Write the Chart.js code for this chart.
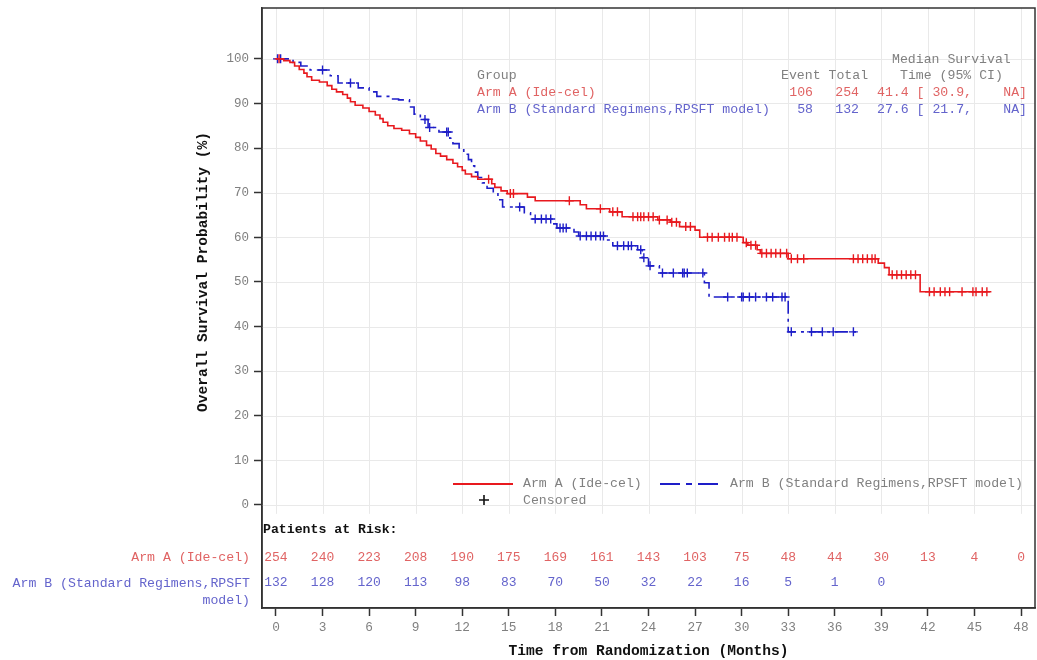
<!DOCTYPE html>
<html>
<head>
<meta charset="utf-8">
<script src="https://cdn.jsdelivr.net/npm/chart.js@4.4.1/dist/chart.umd.min.js"></script>
<style>
html,body{margin:0;padding:0;background:#fff;}
#wrap{width:1037px;height:660px;position:relative;}
</style>
</head>
<body>
<div id="wrap"><canvas id="c" width="1037" height="660"></canvas></div>
<script>
// ---------- data ----------
const xTicks = [0,3,6,9,12,15,18,21,24,27,30,33,36,39,42,45,48];
const yTicks = [0,10,20,30,40,50,60,70,80,90,100];

// Arm A (Ide-cel): event times (months) and survival (%) after each step
const armA_t = [0,0.5,0.9,1.2,1.5,1.8,2.0,2.3,2.8,3.3,3.6,3.9,4.3,4.6,4.8,5.1,5.6,6.0,6.4,6.7,6.9,7.2,7.6,8.1,8.6,9.0,9.3,9.7,10.0,10.3,10.6,11.0,11.4,11.7,12.0,12.2,12.6,13.0,13.9,14.1,14.5,14.9,16.2,16.7,19.6,20.0,21.5,22.3,24.6,25.4,26.0,27.0,27.3,30.1,30.4,31.0,31.2,33.0,38.8,39.2,39.5,41.5,46.0];
const armA_s = [100,99.6,99.2,98.4,97.6,96.8,96.0,95.2,94.8,94.0,93.2,92.6,92.0,91.2,90.4,89.6,89.0,88.2,87.4,86.6,85.8,85.0,84.4,84.0,83.2,82.4,81.6,80.6,79.8,78.8,78.2,77.4,76.6,75.8,75.0,74.2,73.6,73.0,72.0,71.2,70.4,69.8,69.0,68.2,67.3,66.4,65.7,64.6,63.9,63.4,62.4,61.6,60.0,58.8,58.2,57.2,56.4,55.2,54.2,53.2,51.6,47.8,47.8];
const armA_censor = [0.2,13.7,15.1,15.3,18.9,20.9,21.7,22.0,23.0,23.3,23.5,23.7,24.0,24.3,24.7,25.2,25.5,25.8,26.4,26.7,27.8,28.1,28.5,28.9,29.2,29.4,29.7,30.3,30.6,30.9,31.3,31.6,31.9,32.2,32.5,32.9,33.2,33.6,34.0,37.2,37.5,37.8,38.1,38.4,38.6,39.7,40.0,40.3,40.6,40.9,41.2,42.1,42.4,42.8,43.1,43.4,44.2,44.9,45.1,45.5,45.8];

// Arm B (Standard Regimens, RPSFT model)
const armB_t = [0,1.1,1.6,2.2,3.5,4.0,5.3,6.0,6.5,7.4,7.9,8.6,8.9,9.3,9.8,10.5,11.2,11.4,11.8,12.1,12.4,12.6,12.8,13.0,13.3,13.6,14.0,14.3,14.6,16.0,16.4,17.9,18.1,19.2,19.5,21.3,21.7,23.3,23.6,24.0,24.7,27.6,27.9,33.0,37.4];
const armB_s = [100,99.2,98.4,97.5,96.2,94.6,93.5,92.6,91.6,91.0,90.8,89.2,87.6,86.4,84.6,83.6,82.2,81.0,79.8,78.6,77.4,76.0,74.6,73.4,72.2,71.0,70.0,68.4,66.8,65.5,64.1,63.0,62.1,61.2,60.3,59.4,58.1,57.2,55.4,53.6,52.0,49.8,46.6,38.8,38.8];
const armB_censor = [0.1,0.3,3.0,4.8,9.6,9.9,11.0,11.1,15.7,16.7,17.1,17.4,17.7,18.3,18.5,18.7,19.6,20.0,20.3,20.6,20.9,21.1,22.0,22.4,22.7,22.9,23.5,23.7,24.1,24.9,25.6,26.2,26.3,26.5,27.5,29.1,30.0,30.1,30.5,30.9,31.6,32.0,32.6,32.8,33.2,34.5,35.2,35.9,37.2];

// Patients at risk
const riskA = [254,240,223,208,190,175,169,161,143,103,75,48,44,30,13,4,0];
const riskB = [132,128,120,113,98,83,70,50,32,22,16,5,1,0];

// Summary table
const groupNames = ['Arm A (Ide-cel)','Arm B (Standard Regimens,RPSFT model)'];
const events = [106,58];
const totals = [254,132];
const medians = ['41.4','27.6'];
const ciLow = ['30.9','21.7'];
const ciHigh = ['NA','NA'];

// ---------- styles ----------
const RED = '#e8191e', BLUE = '#1e1ec8';
const RED_TXT = '#e06464', BLUE_TXT = '#6464cc', GRAY_TXT = '#808080';
const MONO = "'Liberation Mono','DejaVu Sans Mono',monospace";

function survAt(ts, ss, t){ let v = ss[0]; for(let i=0;i<ts.length;i++){ if(ts[i]<=t) v=ss[i]; } return v; }
const pts = (ts,ss)=>ts.map((t,i)=>({x:t,y:ss[i]}));
const cens = (cs,ts,ss)=>cs.map(t=>({x:t,y:survAt(ts,ss,t)}));

const overlay = {
  id:'overlay',
  beforeDatasetsDraw(chart){
    const {ctx, chartArea:a, scales:{x,y}} = chart;
    ctx.save();
    ctx.strokeStyle = '#e9e9e9'; ctx.lineWidth = 1;
    yTicks.forEach(v=>{ const py=Math.round(y.getPixelForValue(v))+0.5; ctx.beginPath(); ctx.moveTo(a.left,py); ctx.lineTo(a.right,py); ctx.stroke(); });
    const gBottom = y.getPixelForValue(-2);
    xTicks.forEach(v=>{ const px=Math.round(x.getPixelForValue(v))+0.5; ctx.beginPath(); ctx.moveTo(px,a.top); ctx.lineTo(px,gBottom); ctx.stroke(); });
    ctx.restore();
  },
  afterDraw(chart){
    const {ctx, chartArea:a, scales:{x,y}} = chart;
    ctx.save();
    // frame
    ctx.strokeStyle = '#333'; ctx.lineWidth = 1.5;
    ctx.strokeRect(a.left, a.top, a.right-a.left, a.bottom-a.top);

    // summary table
    ctx.textBaseline = 'middle';
    ctx.font = '13.2px '+MONO;
    ctx.fillStyle = GRAY_TXT; ctx.textAlign='left';
    ctx.fillText('Median Survival', 892, 60);
    ctx.fillText('Group', 477, 76);
    ctx.fillText('Event Total', 781, 76);
    ctx.fillText('Time (95% CI)', 900, 76);
    const rowY = [93, 110];
    [0,1].forEach(i=>{
      ctx.fillStyle = i===0?RED_TXT:BLUE_TXT;
      ctx.textAlign='left'; ctx.fillText(groupNames[i], 477, rowY[i]);
      ctx.textAlign='right'; ctx.fillText(String(events[i]), 813, rowY[i]);
      ctx.fillText(String(totals[i]), 859, rowY[i]);
      ctx.textAlign='left'; ctx.fillText(medians[i]+' [ '+ciLow[i]+',', 877, rowY[i]);
      ctx.textAlign='right'; ctx.fillText(ciHigh[i]+']', 1027, rowY[i]);
    });

    // legend
    ctx.lineWidth = 1.8;
    ctx.strokeStyle = RED; ctx.beginPath(); ctx.moveTo(453,484); ctx.lineTo(513,484); ctx.stroke();
    ctx.strokeStyle = BLUE; ctx.setLineDash([20,6,6,6]); ctx.beginPath(); ctx.moveTo(660,484); ctx.lineTo(720,484); ctx.stroke(); ctx.setLineDash([]);
    ctx.strokeStyle = '#111'; ctx.lineWidth=1.6; ctx.beginPath(); ctx.moveTo(479,500); ctx.lineTo(489,500); ctx.moveTo(484,495); ctx.lineTo(484,505); ctx.stroke();
    ctx.fillStyle = GRAY_TXT; ctx.textAlign='left';
    ctx.fillText('Arm A (Ide-cel)', 523, 484);
    ctx.fillText('Arm B (Standard Regimens,RPSFT model)', 730, 484);
    ctx.fillText('Censored', 523, 501);

    // patients at risk
    ctx.fillStyle = '#111'; ctx.font = 'bold 13.2px '+MONO;
    ctx.fillText('Patients at Risk:', a.left+1, y.getPixelForValue(-5.6));
    ctx.font = '13px '+MONO; ctx.textAlign='center';
    const yA = y.getPixelForValue(-11.7), yB = y.getPixelForValue(-17.5);
    ctx.fillStyle = RED_TXT; riskA.forEach((n,i)=>ctx.fillText(String(n), x.getPixelForValue(xTicks[i]), yA));
    ctx.fillStyle = BLUE_TXT; riskB.forEach((n,i)=>ctx.fillText(String(n), x.getPixelForValue(xTicks[i]), yB));
    ctx.font = '13.2px '+MONO; ctx.textAlign='right';
    ctx.fillStyle = RED_TXT; ctx.fillText('Arm A (Ide-cel)', 250, yA);
    ctx.fillStyle = BLUE_TXT; ctx.fillText('Arm B (Standard Regimens,RPSFT', 250, yB); ctx.fillText('model)', 250, yB+17);

    // axis titles
    ctx.fillStyle = '#111'; ctx.font = 'bold 14.6px '+MONO; ctx.textAlign='center';
    ctx.fillText('Time from Randomization (Months)', (a.left+a.right)/2, 651);
    ctx.translate(203, 272); ctx.rotate(-Math.PI/2);
    ctx.fillText('Overall Survival Probability (%)', 0, 0);
    ctx.restore();
  }
};

new Chart(document.getElementById('c'), {
  type:'line',
  data:{ datasets:[
    {data:pts(armA_t,armA_s), stepped:true, borderColor:RED, borderWidth:1.6, pointRadius:0, fill:false},
    {data:cens(armA_censor,armA_t,armA_s), showLine:false, pointStyle:'cross', pointRadius:4.5, borderColor:RED, borderWidth:1.4},
    {data:pts(armB_t,armB_s), stepped:true, borderColor:BLUE, borderWidth:1.6, borderDash:[13,5,3,5], pointRadius:0, fill:false},
    {data:cens(armB_censor,armB_t,armB_s), showLine:false, pointStyle:'cross', pointRadius:4.5, borderColor:BLUE, borderWidth:1.4}
  ]},
  options:{
    responsive:false, devicePixelRatio:1, animation:false,
    layout:{autoPadding:false, padding:{top:8,right:2,left:0,bottom:0}},
    plugins:{legend:{display:false}, tooltip:{enabled:false}},
    scales:{
      x:{ type:'linear', min:-0.9, max:48.9,
        afterBuildTicks:s=>{ s.ticks = xTicks.map(v=>({value:v})); },
        afterFit:s=>{ s.height = 52; s.paddingLeft = 0; s.paddingRight = 0; },
        grid:{drawOnChartArea:false, drawTicks:true, tickLength:8, tickColor:'#333', tickWidth:1.5},
        border:{display:true, color:'#333', width:1.5},
        ticks:{color:GRAY_TXT, font:{family:MONO, size:12.8}, padding:4, maxRotation:0, autoSkip:false}
      },
      y:{ type:'linear', min:-23.1, max:111.4,
        afterBuildTicks:s=>{ s.ticks = yTicks.map(v=>({value:v})); },
        afterFit:s=>{ s.width = 262; s.paddingTop = 0; s.paddingBottom = 0; },
        grid:{drawOnChartArea:false, drawTicks:true, tickLength:8, tickColor:'#333', tickWidth:1.5},
        border:{display:true, color:'#333', width:1.5},
        ticks:{color:GRAY_TXT, font:{family:MONO, size:12.5}, padding:5, autoSkip:false}
      }
    }
  },
  plugins:[overlay]
});
</script>
</body>
</html>
